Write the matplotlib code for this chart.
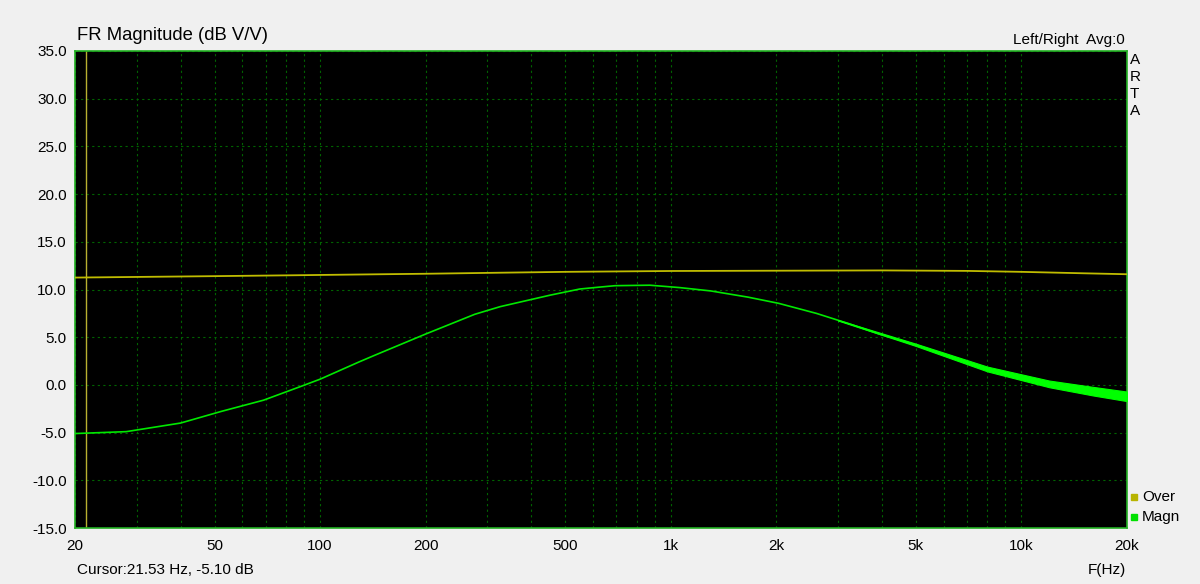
import numpy as np
import matplotlib
matplotlib.use("Agg")
import matplotlib.pyplot as plt
from matplotlib.ticker import FixedLocator, NullFormatter

plt.rcParams['font.family'] = ['Liberation Sans', 'DejaVu Sans']

# ---- data ----
magn_f = [20, 28, 40, 52, 69, 89, 100, 129, 143, 199, 276, 326, 452, 550, 626, 694, 871,
          1060, 1300, 1660, 2030, 2600, 3200, 3960, 5000, 7000, 10000, 15000, 20000]
magn_db = [-5.1, -4.9, -4.0, -2.8, -1.6, -0.1, 0.6, 2.4, 3.1, 5.3, 7.4, 8.2, 9.4, 10.05, 10.25, 10.4, 10.45,
           10.2, 9.85, 9.2, 8.55, 7.5, 6.45, 5.3, 4.2, 2.3, 0.6, -0.5, -1.2]
noise_f = [3000, 5000, 8000, 12000, 16000, 20000]
noise_half = [0.03, 0.12, 0.25, 0.35, 0.45, 0.5]

over_f = [20, 50, 88, 150, 200, 326, 500, 1000, 2000, 4000, 7000, 10000, 15000, 20000]
over_db = [11.25, 11.4, 11.5, 11.6, 11.65, 11.76, 11.85, 11.94, 11.97, 12.0, 11.95, 11.85, 11.7, 11.6]

cursor_hz = 21.53
x_ticks = [20, 50, 100, 200, 500, 1000, 2000, 5000, 10000, 20000]
x_labels = ['20', '50', '100', '200', '500', '1k', '2k', '5k', '10k', '20k']
y_ticks = [35, 30, 25, 20, 15, 10, 5, 0, -5, -10, -15]
legend_names = ['Over', 'Magn']

# ---- figure ----
fig = plt.figure(figsize=(12, 5.84), dpi=100, facecolor='#F0F0F0')
ax = fig.add_axes([75/1200, 56/584, 1052/1200, 477/584])
ax.set_facecolor('black')
ax.set_xscale('log')
ax.set_xlim(20, 20000)
ax.set_ylim(-15, 35)

grid_minor = [m * 10**e for e in range(1, 5) for m in range(1, 10) if 20 <= m * 10**e <= 20000]
for f in grid_minor:
    ax.axvline(f, color='#006400', lw=0.8, ls=(0, (2, 3)), zorder=1)
for y in y_ticks:
    ax.axhline(y, color='#006400', lw=0.8, ls=(0, (2, 3)), zorder=1)

ax.axvline(cursor_hz, color='#B8B030', lw=1.0, zorder=2)

ax.plot(over_f, over_db, color='#C0BC00', lw=1.3, zorder=3)

mf = np.array(magn_f, float)
md = np.array(magn_db, float)
ax.plot(mf, md, color='#00E800', lw=1.2, zorder=4)
nd = np.interp(np.log10(noise_f), np.log10(mf), md)
ax.fill_between(noise_f, nd - np.array(noise_half), nd + np.array(noise_half),
                color='#00FF00', lw=0.8, edgecolor='#00FF00', zorder=4)

ax.xaxis.set_major_locator(FixedLocator(x_ticks))
ax.set_xticklabels(x_labels)
ax.xaxis.set_minor_formatter(NullFormatter())
ax.xaxis.set_minor_locator(FixedLocator([]))
ax.set_yticks(y_ticks)
ax.set_yticklabels([f'{v:.1f}' for v in y_ticks])
ax.tick_params(axis='both', length=0, labelsize=11, colors='black')
ax.tick_params(axis='x', pad=8)
ax.tick_params(axis='y', pad=6)
for s in ax.spines.values():
    s.set_color('#22B022')
    s.set_linewidth(1.2)

fig.text(77/1200, 1 - 36/584, 'FR Magnitude (dB V/V)', fontsize=13.3, va='center', ha='left')
fig.text(1125/1200, 1 - 40/584, 'Left/Right  Avg:0', fontsize=11, va='center', ha='right')
for i, ch in enumerate('ARTA'):
    fig.text(1130/1200, 1 - (60 + i * 17)/584, ch, fontsize=11, va='center', ha='left')
fig.text(77/1200, 1 - 570/584, 'Cursor:21.53 Hz, -5.10 dB', fontsize=11, va='center', ha='left')
fig.text(1126/1200, 1 - 570/584, 'F(Hz)', fontsize=11, va='center', ha='right')

leg_colors = ['#B8B400', '#00E000']
for i, (name, c) in enumerate(zip(legend_names, leg_colors)):
    yy = 1 - (497 + i * 20)/584
    fig.patches.append(plt.Rectangle((1131/1200, yy - 3/584), 6/1200, 6/584,
                                     transform=fig.transFigure, color=c))
    fig.text(1142/1200, yy, name, fontsize=11, va='center', ha='left')

fig.savefig('out.png', dpi=100, facecolor=fig.get_facecolor())
